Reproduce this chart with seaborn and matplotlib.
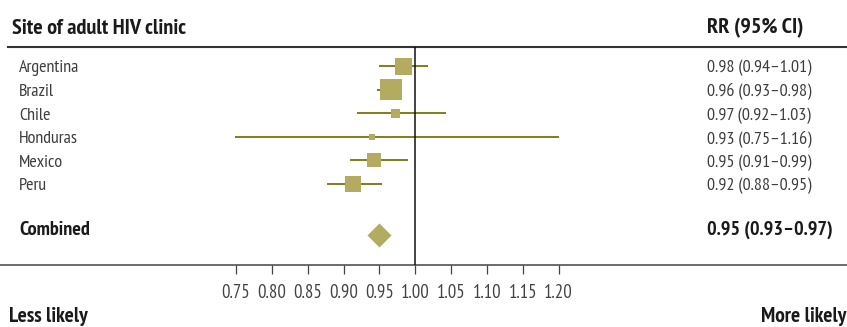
import matplotlib
matplotlib.use("Agg")
import matplotlib.pyplot as plt
import matplotlib.transforms as mtransforms
import seaborn as sns
import pandas as pd

sns.set_theme(style="white")
plt.rcParams['font.family'] = ['PT Sans Narrow', 'DejaVu Sans']

# data
sites = ["Argentina", "Brazil", "Chile", "Honduras", "Mexico", "Peru"]
rr = [0.983, 0.966, 0.973, 0.939, 0.942, 0.913]
ci_low = [0.950, 0.947, 0.919, 0.749, 0.909, 0.877]
ci_high = [1.018, 0.982, 1.043, 1.200, 0.990, 0.953]
box_px = [17, 21.5, 9, 6, 14, 16]   # square side in pixels (study weight)
rr_text = ["0.98 (0.94\u20131.01)", "0.96 (0.93\u20130.98)", "0.97 (0.92\u20131.03)",
           "0.93 (0.75\u20131.16)", "0.95 (0.91\u20130.99)", "0.92 (0.88\u20130.95)"]
combined_rr = 0.950
combined_text = "0.95 (0.93\u20130.97)"
xticks = [0.75, 0.80, 0.85, 0.90, 0.95, 1.00, 1.05, 1.10, 1.15, 1.20]

FILL = "#b3ab5f"
LINE = "#7a7406"
TXT = "#3d3d3d"
DARK = "#1a1a1a"

df = pd.DataFrame({"site": sites, "rr": rr, "lo": ci_low, "hi": ci_high,
                   "row": range(len(sites)),
                   "s": [(p * 0.72) ** 2 for p in box_px]})
comb_row = 7.05

fig = plt.figure(figsize=(8.47, 3.27), dpi=100)
ax = fig.add_axes([0, 62 / 327, 1, 218 / 327])

ax.hlines(df["row"], df["lo"], df["hi"], color=LINE, lw=1.3, zorder=2)
sns.scatterplot(data=df, x="rr", y="row", marker="s", s=df["s"], color=FILL,
                linewidth=0, ax=ax, zorder=3, legend=False)
sns.scatterplot(x=[combined_rr], y=[comb_row + 0.1], marker="D", s=(17 * 0.72) ** 2,
                color=FILL, linewidth=0, ax=ax, zorder=3, legend=False)
ax.axvline(1.0, color="#111111", lw=1.1, zorder=4)

ax.set_xlim(1 - 415.3 / 717, 1 + 431.7 / 717)
ax.set_ylim(8.43, -0.805)
ax.set_xlabel("")
ax.set_ylabel("")
ax.set_yticks([])
ax.set_xticks(xticks)
ax.set_xticklabels([f"{t:.2f}" for t in xticks])
ax.tick_params(axis="x", bottom=True, direction="out", length=6.5, width=0.9,
               color="#444444", pad=7, labelsize=13.5, labelcolor="#444444")
for side in ["left", "right"]:
    ax.spines[side].set_visible(False)
ax.spines["bottom"].set_color("#444444")
ax.spines["bottom"].set_linewidth(1.1)
ax.spines["top"].set_color("#333333")
ax.spines["top"].set_linewidth(1.5)
ax.spines["top"].set_bounds(1 - (415.3 - 8) / 717, 1 + 431.7 / 717)

tr = mtransforms.blended_transform_factory(ax.transAxes, ax.transData)
for i, (name, txt) in enumerate(zip(sites, rr_text)):
    ax.text(19 / 847, i + 0.1, name, transform=tr, ha="left", va="center",
            fontsize=13, color=TXT)
    ax.text(707 / 847, i + 0.1, txt, transform=tr, ha="left", va="center",
            fontsize=13, color=TXT)
ax.text(19 / 847, comb_row - 0.1, "Combined", transform=tr, ha="left", va="center",
        fontsize=14.5, fontweight="bold", color=DARK)
ax.text(707 / 847, comb_row - 0.1, combined_text, transform=tr, ha="left", va="center",
        fontsize=14.5, fontweight="bold", color=DARK)

fig.text(12 / 847, 1 - 28 / 327, "Site of adult HIV clinic", ha="left", va="center",
         fontsize=16, fontweight="bold", color=DARK)
fig.text(707 / 847, 1 - 28 / 327, "RR (95% CI)", ha="left", va="center",
         fontsize=16, fontweight="bold", color=DARK)
fig.text(9 / 847, 1 - 316 / 327, "Less likely", ha="left", va="center",
         fontsize=15.5, fontweight="bold", color=DARK)
fig.text(846 / 847, 1 - 316 / 327, "More likely", ha="right", va="center",
         fontsize=15.5, fontweight="bold", color=DARK)

fig.savefig("out.png", dpi=100)
